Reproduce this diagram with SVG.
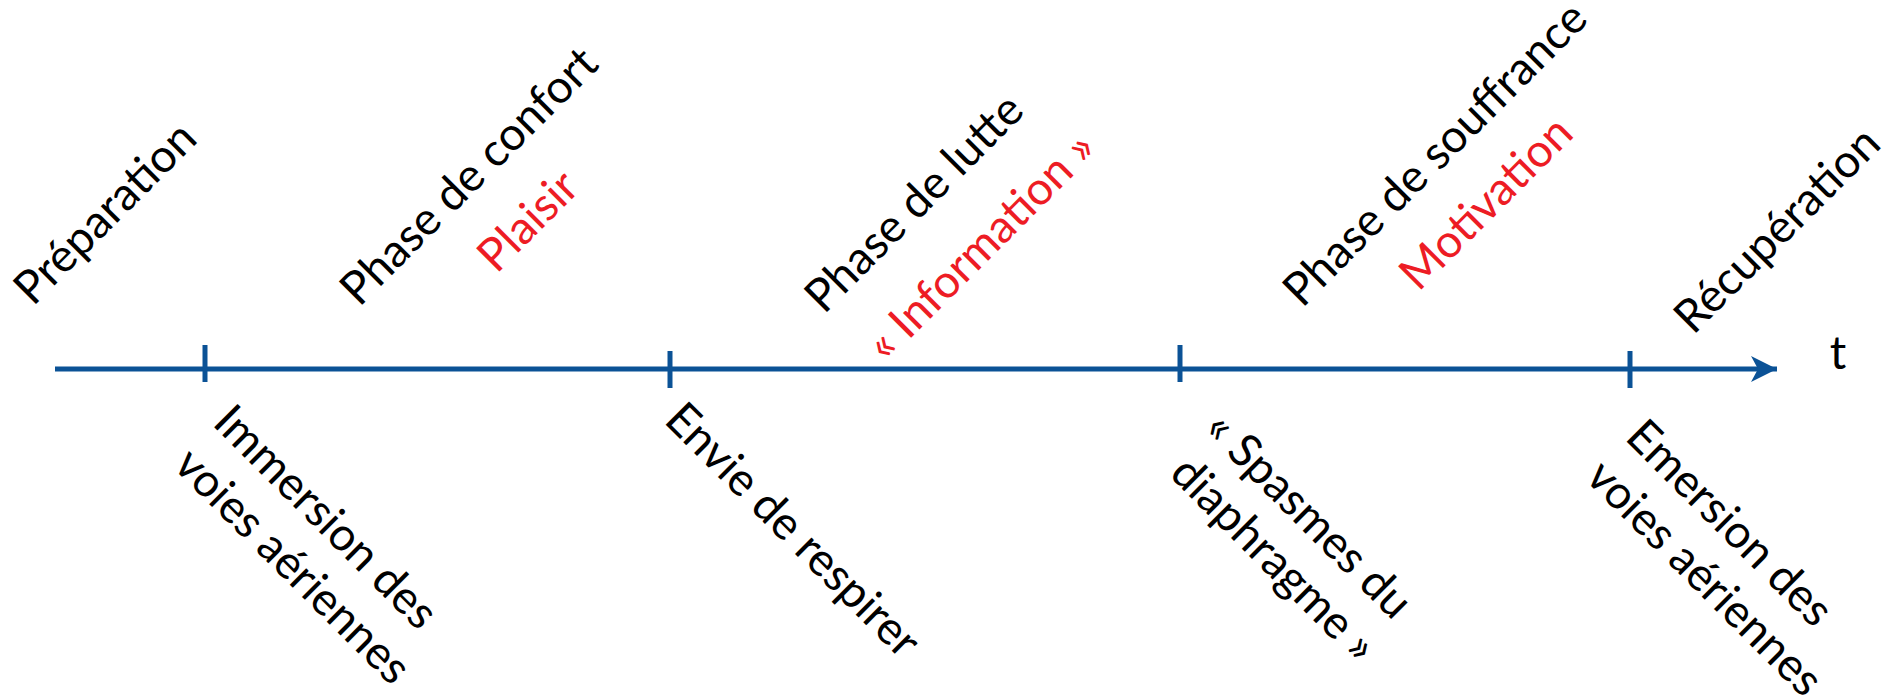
<svg xmlns="http://www.w3.org/2000/svg" width="1885" height="697" viewBox="0 0 1885 697">
<style>
text{font-family:Lato,"Liberation Sans",sans-serif;font-size:46px;fill:#000;text-anchor:middle}
.red{fill:#ED1C24}
.axis{stroke:#0B5296;stroke-width:5;fill:none}
.tick{stroke:#0B5296;stroke-width:5}
</style>
<defs>
<marker id="arr" markerUnits="userSpaceOnUse" markerWidth="30" markerHeight="30" refX="26" refY="13" orient="auto">
<path d="M0,0 L26,13 L0,26 L7,13 Z" fill="#0B5296"/>
</marker>
</defs>
<g id="connectors">
<line class="axis" x1="55" y1="369" x2="1777" y2="369" marker-end="url(#arr)"/>
<line class="tick" x1="205" y1="345" x2="205" y2="382"/>
<line class="tick" x1="670" y1="351" x2="670" y2="388"/>
<line class="tick" x1="1180" y1="345" x2="1180" y2="382"/>
<line class="tick" x1="1630" y1="351" x2="1630" y2="388"/>
</g>
<g id="t-label"><text x="1838" y="369">t</text></g>
<g id="preparation"><text transform="translate(116,224) rotate(-45)">Préparation</text></g>
<g id="confort">
<text transform="translate(480,187) rotate(-45)">Phase de confort</text>
<text class="red" transform="translate(539,232) rotate(-45)">Plaisir</text>
</g>
<g id="lutte">
<text transform="translate(925,214) rotate(-45)">Phase de lutte</text>
<text class="red" transform="translate(992,257) rotate(-45)">« Information »</text>
</g>
<g id="souffrance">
<text transform="translate(1446,165) rotate(-45)">Phase de souffrance</text>
<text class="red" transform="translate(1497,214) rotate(-45)">Motivation</text>
</g>
<g id="recuperation"><text transform="translate(1788,241) rotate(-45)">Récupération</text></g>
<g id="immersion">
<text transform="translate(315,528) rotate(45)">Immersion des</text>
<text transform="translate(282,577) rotate(45)">voies aériennes</text>
</g>
<g id="envie"><text transform="translate(782,541) rotate(45)">Envie de respirer</text></g>
<g id="spasmes">
<text transform="translate(1298,526) rotate(45)">« Spasmes du</text>
<text transform="translate(1263,570) rotate(45)">diaphragme »</text>
</g>
<g id="emersion">
<text transform="translate(1719,534) rotate(45)">Emersion des</text>
<text transform="translate(1694,589) rotate(45)">voies aériennes</text>
</g>
</svg>
